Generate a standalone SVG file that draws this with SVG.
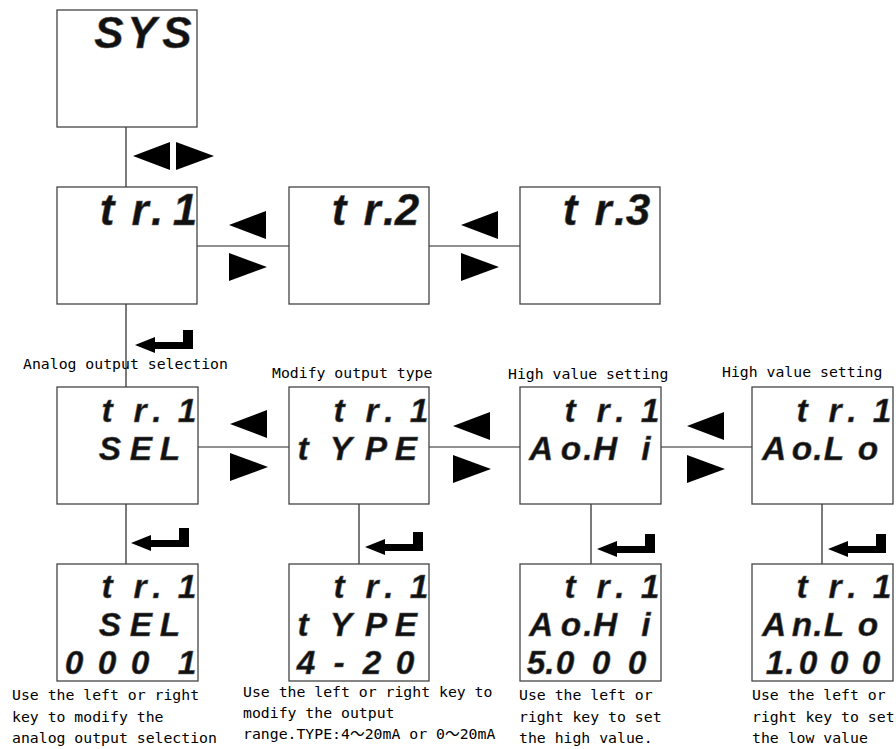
<svg xmlns="http://www.w3.org/2000/svg" xmlns:xlink="http://www.w3.org/1999/xlink" width="896" height="749" viewBox="0 0 896 749">
<style>
.box{fill:#fff;stroke:#444;stroke-width:1.3}
.ln{stroke:#222;stroke-width:1.2;fill:none}
.seg{font-family:"Liberation Sans",Arial,sans-serif;font-weight:bold;font-style:italic;fill:#111;stroke:#666;stroke-width:0.5;text-anchor:middle}
.s1{font-size:44px}
.s2{font-size:33.5px}
.cap{font-family:"DejaVu Sans Mono","Noto Sans CJK SC",monospace;font-size:14.8px;fill:#000}
.tri{fill:#000}
</style>
<defs>
<polygon id="tl" points="0,0 37,-14 37,14"/>
<polygon id="tr" points="0,-14 38,0 0,14"/>
<path id="ent" d="M0,0 L20,-8 L20,-3 L48,-3 L48,-15 L58,-15 L58,4 L20,4 L20,8 Z"/>
</defs>
<rect width="896" height="749" fill="#fff"/>

<g id="connectors">
<line class="ln" x1="126" y1="127" x2="126" y2="187"/>
<line class="ln" x1="126" y1="304" x2="126" y2="387"/>
<line class="ln" x1="197" y1="246" x2="289" y2="246"/>
<line class="ln" x1="429" y1="246" x2="520" y2="246"/>
<line class="ln" x1="198" y1="447" x2="289" y2="447"/>
<line class="ln" x1="429" y1="447" x2="520" y2="447"/>
<line class="ln" x1="661" y1="447" x2="752" y2="447"/>
<line class="ln" x1="126" y1="504" x2="126" y2="564"/>
<line class="ln" x1="359" y1="504" x2="359" y2="564"/>
<line class="ln" x1="591" y1="504" x2="591" y2="564"/>
<line class="ln" x1="822" y1="504" x2="822" y2="564"/>
<g class="tri">
<use xlink:href="#tl" x="133" y="156"/><use xlink:href="#tr" x="176" y="156"/>
<use xlink:href="#tl" x="229" y="225"/><use xlink:href="#tr" x="229" y="267"/>
<use xlink:href="#tl" x="461" y="225"/><use xlink:href="#tr" x="461" y="267"/>
<use xlink:href="#tl" x="230" y="424"/><use xlink:href="#tr" x="230" y="467"/>
<use xlink:href="#tl" x="453" y="426"/><use xlink:href="#tr" x="453" y="469"/>
<use xlink:href="#tl" x="687" y="426"/><use xlink:href="#tr" x="687" y="469"/>
<use xlink:href="#ent" x="135" y="345"/>
<use xlink:href="#ent" x="131" y="543"/>
<use xlink:href="#ent" x="365" y="547"/>
<use xlink:href="#ent" x="597" y="549"/>
<use xlink:href="#ent" x="828" y="549"/>
</g>
</g>

<g id="sys">
<rect class="box" x="57" y="10" width="140" height="117"/>
<text class="seg s1" x="109 142 177" y="48">SYS</text>
</g>
<g id="tr1">
<rect class="box" x="57" y="187" width="140" height="117"/>
<text class="seg s1" x="107 140 157 185" y="225">tr.1</text>
</g>
<g id="tr2">
<rect class="box" x="289" y="187" width="140" height="117"/>
<text class="seg s1" x="339 372 389 407" y="225">tr.2</text>
</g>
<g id="tr3">
<rect class="box" x="520" y="187" width="140" height="117"/>
<text class="seg s1" x="570 603 620 638" y="225">tr.3</text>
</g>

<g id="sel">
<rect class="box" x="57" y="387" width="141" height="117"/>
<text class="seg s2"><tspan x="107 140 157 187" y="422">tr.1</tspan><tspan x="110 141 170" y="460">SEL</tspan></text>
</g>
<g id="type">
<rect class="box" x="289" y="387" width="140" height="117"/>
<text class="seg s2"><tspan x="339 372 389 419" y="422">tr.1</tspan><tspan x="303 341 376 406" y="460">tYPE</tspan></text>
</g>
<g id="aohi">
<rect class="box" x="520" y="387" width="141" height="117"/>
<text class="seg s2"><tspan x="570 603 620 650" y="422">tr.1</tspan><tspan x="541 571 588 605 646" y="460">Ao.Hi</tspan></text>
</g>
<g id="aolo">
<rect class="box" x="752" y="387" width="141" height="117"/>
<text class="seg s2"><tspan x="802 835 852 882" y="422">tr.1</tspan><tspan x="774 802 818 834 868" y="460">Ao.Lo</tspan></text>
</g>

<g id="sel-val">
<rect class="box" x="57" y="564" width="141" height="117"/>
<text class="seg s2"><tspan x="107 140 157 187" y="598">tr.1</tspan><tspan x="110 141 170" y="636">SEL</tspan><tspan x="74 107 140 187" y="674">0001</tspan></text>
</g>
<g id="type-val">
<rect class="box" x="289" y="564" width="140" height="117"/>
<text class="seg s2"><tspan x="339 372 389 419" y="598">tr.1</tspan><tspan x="303 341 376 406" y="636">tYPE</tspan><tspan x="306 339 372 405" y="674">4-20</tspan></text>
</g>
<g id="aohi-val">
<rect class="box" x="520" y="564" width="141" height="117"/>
<text class="seg s2"><tspan x="570 603 620 650" y="598">tr.1</tspan><tspan x="541 571 588 605 646" y="636">Ao.Hi</tspan><tspan x="536 550 565 601 637" y="674">5.000</tspan></text>
</g>
<g id="anlo-val">
<rect class="box" x="752" y="564" width="141" height="117"/>
<text class="seg s2"><tspan x="802 835 852 882" y="598">tr.1</tspan><tspan x="774 802 818 834 868" y="636">An.Lo</tspan><tspan x="775 790 808 839 871" y="674">1.000</tspan></text>
</g>

<g id="labels">
<text class="cap" x="23" y="369">Analog output selection</text>
<text class="cap" x="272" y="378">Modify output type</text>
<text class="cap" x="508" y="379">High value setting</text>
<text class="cap" x="722" y="377">High value setting</text>
<text class="cap"><tspan x="12" y="700">Use the left or right</tspan><tspan x="12" y="722">key to modify the</tspan><tspan x="12" y="743">analog output selection</tspan></text>
<text class="cap"><tspan x="243" y="697">Use the left or right key to</tspan><tspan x="243" y="718">modify the output</tspan><tspan x="243" y="739">range.TYPE:4～20mA or 0～20mA</tspan></text>
<text class="cap"><tspan x="519" y="700">Use the left or</tspan><tspan x="519" y="722">right key to set</tspan><tspan x="519" y="743">the high value.</tspan></text>
<text class="cap"><tspan x="752" y="700">Use the left or</tspan><tspan x="752" y="722">right key to set</tspan><tspan x="752" y="743">the low value</tspan></text>
</g>
</svg>
